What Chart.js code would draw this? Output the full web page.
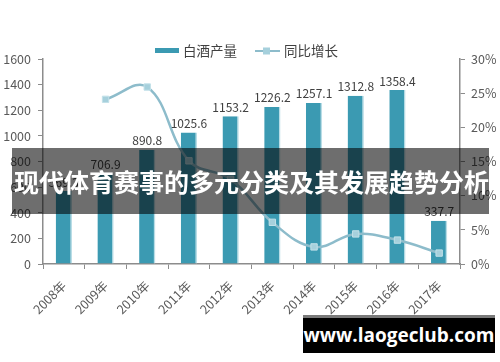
<!DOCTYPE html>
<html>
<head>
<meta charset="utf-8">
<script src="https://cdn.jsdelivr.net/npm/chart.js@4.4.0/dist/chart.umd.min.js"></script>
<style>
    html, body { margin: 0; padding: 0; background: #fff; }
    #wrap { position: relative; width: 500px; height: 362px; overflow: hidden; }
    #chart { position: absolute; left: 0; top: 0; }
    .band {
        position: absolute; left: 12px; top: 148px; width: 477px; height: 66px;
        background: rgba(0, 0, 0, 0.57);
        color: #fff; font: bold 25px "Noto Sans CJK SC", sans-serif;
        line-height: 66px; white-space: nowrap; padding-left: 2px; box-sizing: border-box;
    }
    .site {
        position: absolute; left: 303px; top: 315px; width: 192px; height: 38px;
        background: #000; border-top: 3px solid #7a7a7a; box-sizing: border-box;
        color: #fff; font: bold 19px "Open Sans", "DejaVu Sans", sans-serif;
        text-align: center; line-height: 34px;
    }
</style>
</head>
<body>
<div id="wrap">
    <canvas id="chart" width="500" height="362"></canvas>
    <div class="band">现代体育赛事的多元分类及其发展趋势分析</div>
    <div class="site">www.laogeclub.com</div>
</div>
<script>
const years = ['2008年', '2009年', '2010年', '2011年', '2012年', '2013年', '2014年', '2015年', '2016年', '2017年'];
const output = [569.3, 706.9, 890.8, 1025.6, 1153.2, 1226.2, 1257.1, 1312.8, 1358.4, 337.7];
const growth = [null, 24.1, 25.9, 15.1, 12.4, 6.1, 2.5, 4.4, 3.5, 1.6];
const leftTicks = [0, 1600, 200];
const rightTicks = [0, 30, 5];

const barColor = '#3b9ab2';
const lineColor = '#8dbccb';
const tickColor = '#595959';
const axisColor = '#8c8c8c';
const font = '"Noto Sans CJK SC", sans-serif';

// value labels over the bars
const barLabels = {
    id: 'barLabels',
    afterDatasetsDraw(chart) {
        const ctx = chart.ctx;
        const meta = chart.getDatasetMeta(0);
        ctx.save();
        ctx.font = `12px ${font}`;
        ctx.fillStyle = '#404040';
        ctx.textAlign = 'center';
        ctx.textBaseline = 'bottom';
        meta.data.forEach((bar, i) => {
            ctx.fillText(output[i].toFixed(1), bar.x, bar.y - 3);
        });
        ctx.restore();
    }
};

// legend at the top
const topLegend = {
    id: 'topLegend',
    afterDraw(chart) {
        const ctx = chart.ctx;
        ctx.save();
        ctx.fillStyle = barColor;
        ctx.fillRect(155, 48, 24, 5);
        ctx.font = `13.5px ${font}`;
        ctx.fillStyle = '#404040';
        ctx.textBaseline = 'middle';
        ctx.fillText('白酒产量', 183, 51);

        ctx.strokeStyle = lineColor;
        ctx.lineWidth = 2;
        ctx.beginPath();
        ctx.moveTo(255, 51);
        ctx.lineTo(280, 51);
        ctx.stroke();
        ctx.fillStyle = '#a6d0dc';
        ctx.fillRect(263, 47.5, 7, 7);
        ctx.fillStyle = '#404040';
        ctx.fillText('同比增长', 284, 51);
        ctx.restore();
    }
};

new Chart(document.getElementById('chart'), {
    type: 'bar',
    data: {
        labels: years,
        datasets: [{
            type: 'bar',
            label: '白酒产量',
            data: output,
            yAxisID: 'y',
            backgroundColor: barColor,
            borderColor: '#b9dde6',
            borderWidth: {right: 1.5, left: 0, top: 0, bottom: 0},
            categoryPercentage: 1,
            barPercentage: 0.39,
            order: 2
        }, {
            type: 'line',
            label: '同比增长',
            data: growth,
            yAxisID: 'y1',
            borderColor: lineColor,
            borderWidth: 2.5,
            tension: 0.4,
            pointStyle: 'rect',
            pointRadius: 4.5,
            pointBackgroundColor: '#a6d0dc',
            pointBorderColor: '#c3e1e9',
            pointBorderWidth: 1,
            order: 1
        }]
    },
    options: {
        responsive: false,
        animation: false,
        layout: {padding: {top: 59, left: 0, right: 0, bottom: 0}},
        plugins: {legend: {display: false}, tooltip: {enabled: false}},
        scales: {
            x: {
                afterFit: scale => { scale.height = 98; },
                grid: {display: true, drawOnChartArea: false, tickLength: 5, color: axisColor},
                border: {color: axisColor, width: 1.5},
                ticks: {color: tickColor, font: {family: font, size: 12.5}, minRotation: 45, maxRotation: 45, padding: 9}
            },
            y: {
                position: 'left',
                min: leftTicks[0], max: leftTicks[1],
                afterFit: scale => { scale.width = 43; },
                grid: {display: true, drawOnChartArea: false, tickLength: 5, color: axisColor},
                border: {color: axisColor, width: 1.5},
                ticks: {stepSize: leftTicks[2], color: tickColor, font: {family: font, size: 12.5}, padding: 7,
                    callback: v => String(v)}
            },
            y1: {
                position: 'right',
                min: rightTicks[0], max: rightTicks[1],
                afterFit: scale => { scale.width = 40; },
                grid: {display: true, drawOnChartArea: false, tickLength: 5, color: axisColor},
                border: {color: axisColor, width: 1.5},
                ticks: {stepSize: rightTicks[2], color: tickColor, font: {family: font, size: 12.5}, padding: 6,
                    callback: v => v + '%'}
            }
        }
    },
    plugins: [barLabels, topLegend]
});
</script>
</body>
</html>
